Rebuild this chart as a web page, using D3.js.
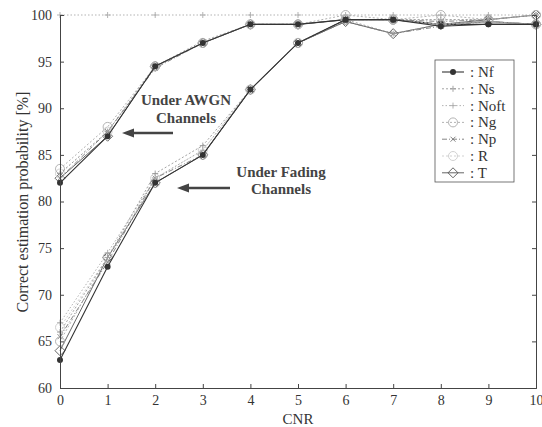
<!DOCTYPE html>
<html><head><meta charset="utf-8">
<script src="https://cdn.jsdelivr.net/npm/d3@7"></script>
<style>body{margin:0;background:#fff;} svg text{font-family:"Liberation Serif","Times New Roman",Tinos,"Noto Serif","DejaVu Serif",serif !important;}</style>
</head><body>
<svg id="c" width="542" height="427"></svg>
<script>
const cnr = [0,1,2,3,4,5,6,7,8,9,10];
const seriesNames = ["Nf","Ns","Noft","Ng","Np","R","T"];
// Under AWGN channels
const awgnNf   = [82, 87, 94.5, 97, 99, 99, 99.5, 99.5, 99, 99, 99];
const awgnNs   = [83, 87.5, 94.5, 97.2, 99, 99, 99.5, 99.5, 99.5, 99.5, 100];
const awgnNoft = [100, 100, 100, 100, 100, 100, 100, 100, 100, 100, 100];
const awgnNg   = [83.5, 88, 94.5, 97, 99, 99, 100, 99.5, 100, 99.5, 100];
const awgnNp   = [82.5, 87.5, 94.3, 97, 99, 99, 99.5, 99.5, 99.3, 99.5, 100];
const awgnR    = [83, 87.5, 94.5, 97, 99, 99, 99.5, 99.5, 99.5, 99.5, 100];
const awgnT    = [82.5, 87, 94.5, 97, 99, 99, 99.5, 99.5, 99, 99.5, 100];
// Under fading channels
const fadNf   = [63, 73, 82, 85, 92, 97, 99.5, 99.5, 98.8, 99, 99];
const fadNs   = [66, 74, 83, 86, 92, 97, 99.5, 98, 99, 99.3, 99];
const fadNoft = [67, 74.5, 82.5, 85.5, 92, 97, 99.5, 99.5, 99, 99.3, 99];
const fadNg   = [65, 74, 82, 85, 92, 97, 99.5, 99.5, 99, 99.3, 99];
const fadNp   = [65.5, 73.5, 82.5, 85, 92, 97, 99.3, 98, 98.8, 99.3, 99];
const fadR    = [66.5, 74, 82.5, 85.5, 92, 97, 99.5, 99.5, 99, 99.3, 99];
const fadT    = [64, 74, 82, 85, 92, 97, 99.3, 98, 99, 99.3, 99];
const yTicks = [60,65,70,75,80,85,90,95,100];

const styles = {
  Nf:   {stroke:"#333", dash:null, marker:"dot", w:1.1},
  Ns:   {stroke:"#999", dash:"2,2", marker:"plus", w:0.9},
  Noft: {stroke:"#aaa", dash:"1.5,2", marker:"plus", w:0.9},
  Ng:   {stroke:"#aaa", dash:"2,2", marker:"circle", w:0.9},
  Np:   {stroke:"#777", dash:"5,2,1,2", marker:"x", w:0.9},
  R:    {stroke:"#ccc", dash:"2,2", marker:"circle", w:0.9},
  T:    {stroke:"#555", dash:null, marker:"diamond", w:0.9}
};
const awgn = {Nf:awgnNf,Ns:awgnNs,Noft:awgnNoft,Ng:awgnNg,Np:awgnNp,R:awgnR,T:awgnT};
const fad  = {Nf:fadNf,Ns:fadNs,Noft:fadNoft,Ng:fadNg,Np:fadNp,R:fadR,T:fadT};

const svg = d3.select("#c");
const x = d3.scaleLinear().domain([0,10]).range([60,536]);
const y = d3.scaleLinear().domain([60,100]).range([388,15]);

function marker(g, type, cx, cy, st){
  if(type==="dot") g.append("circle").attr("cx",cx).attr("cy",cy).attr("r",3).attr("fill",st.stroke);
  else if(type==="circle") g.append("circle").attr("cx",cx).attr("cy",cy).attr("r",4.5).attr("fill","none").attr("stroke",st.stroke).attr("stroke-width",0.9);
  else if(type==="plus") g.append("path").attr("d",`M${cx-3},${cy}H${cx+3}M${cx},${cy-3}V${cy+3}`).attr("stroke",st.stroke).attr("stroke-width",0.9);
  else if(type==="x") g.append("path").attr("d",`M${cx-2.5},${cy-2.5}L${cx+2.5},${cy+2.5}M${cx-2.5},${cy+2.5}L${cx+2.5},${cy-2.5}`).attr("stroke",st.stroke).attr("stroke-width",0.9);
  else if(type==="diamond") g.append("path").attr("d",`M${cx},${cy-5}L${cx+5},${cy}L${cx},${cy+5}L${cx-5},${cy}Z`).attr("fill","none").attr("stroke",st.stroke).attr("stroke-width",0.9);
}

const line = d3.line().x((d,i)=>x(cnr[i])).y(d=>y(d));
const plot = svg.append("g");
[awgn,fad].forEach(group=>{
  seriesNames.slice().reverse().forEach(name=>{
    const st = styles[name], vals = group[name];
    plot.append("path").attr("d",line(vals)).attr("fill","none")
      .attr("stroke",st.stroke).attr("stroke-width",st.w).attr("stroke-dasharray",st.dash);
    const mg = plot.append("g");
    vals.forEach((v,i)=>marker(mg, st.marker, x(cnr[i]), y(v), st));
  });
});

// axes
const ax = svg.append("g");
ax.append("g").attr("transform","translate(0,388)")
  .call(d3.axisBottom(x).tickValues(cnr).tickSize(-4).tickPadding(7).tickFormat(d3.format("d")))
  .call(g=>{g.attr("font-family",null);g.select(".domain").attr("stroke","#444");g.selectAll("line").attr("stroke","#444");
    g.selectAll("text").attr("font-size",14).attr("fill","#333");});
ax.append("g").attr("transform","translate(60,0)")
  .call(d3.axisLeft(y).tickValues(yTicks).tickSize(-4).tickPadding(8))
  .call(g=>{g.attr("font-family",null);g.select(".domain").attr("stroke","#444");g.selectAll("line").attr("stroke","#444");
    g.selectAll("text").attr("font-size",14).attr("fill","#333");});
ax.append("g").attr("transform","translate(536,0)")
  .call(d3.axisRight(y).tickValues(yTicks).tickSize(-4).tickFormat(""))
  .call(g=>{g.select(".domain").attr("stroke","#444");g.selectAll("line").attr("stroke","#444");});

svg.append("text").attr("x",298).attr("y",424).attr("text-anchor","middle").attr("font-size",15).attr("fill","#333").text("CNR");
svg.append("text").attr("transform","translate(28,202) rotate(-90)").attr("text-anchor","middle").attr("font-size",16).attr("fill","#333").text("Correct estimation probability [%]");

// annotations
const ann = svg.append("g").attr("font-weight","bold").attr("font-size",15).attr("fill","#444").attr("text-anchor","middle");
ann.append("text").attr("x",186).attr("y",105).text("Under AWGN");
ann.append("text").attr("x",186).attr("y",123).text("Channels");
ann.append("text").attr("x",281).attr("y",177).text("Under Fading");
ann.append("text").attr("x",281).attr("y",194).text("Channels");
function arrow(x1,x2,yy){
  svg.append("line").attr("x1",x1).attr("x2",x2+8).attr("y1",yy).attr("y2",yy).attr("stroke","#444").attr("stroke-width",2.5);
  svg.append("path").attr("d",`M${x2},${yy}L${x2+12},${yy-4.5}L${x2+12},${yy+4.5}Z`).attr("fill","#444");
}
arrow(173,122,133);
arrow(230,177,188);

// legend
const lg = svg.append("g");
lg.append("rect").attr("x",435).attr("y",60).attr("width",79).attr("height",122).attr("fill","#fff").attr("stroke","#555").attr("stroke-width",0.8);
seriesNames.forEach((name,i)=>{
  const yy = 72 + i*16.8, st = styles[name];
  lg.append("line").attr("x1",442).attr("x2",464).attr("y1",yy).attr("y2",yy).attr("stroke",st.stroke).attr("stroke-width",st.w).attr("stroke-dasharray",st.dash);
  marker(lg, st.marker, 453, yy, st);
  lg.append("text").attr("x",470).attr("y",yy+5).attr("font-size",15).attr("fill","#333").text(": "+name);
});
</script>
</body></html>
